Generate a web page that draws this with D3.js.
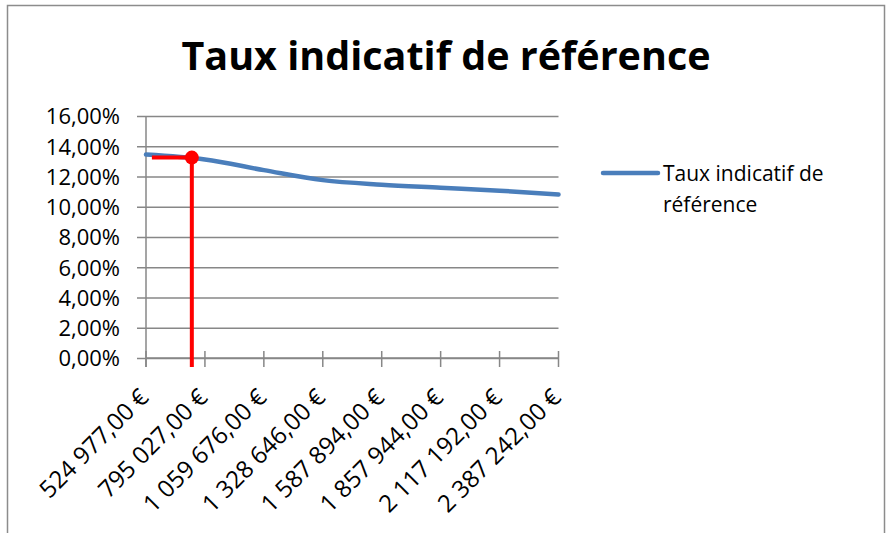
<!DOCTYPE html>
<html>
<head>
<meta charset="utf-8">
<script src="https://cdn.jsdelivr.net/npm/d3@7"></script>
<style>
  body { margin: 0; background: #fff; }
  text { font-family: "Open Sans", "Noto Sans", sans-serif; fill: #000; }
</style>
</head>
<body>
<div id="chart"></div>
<script>
// DATA
const amounts = [524977, 795027, 1059676, 1328646, 1587894, 1857944, 2117192, 2387242];
const amountLabels = ['524 977,00 €', '795 027,00 €', '1 059 676,00 €', '1 328 646,00 €',
  '1 587 894,00 €', '1 857 944,00 €', '2 117 192,00 €', '2 387 242,00 €'];
const rates = [13.45, 13.12, 12.42, 11.76, 11.46, 11.26, 11.06, 10.81];
const yTicks = [0, 2, 4, 6, 8, 10, 12, 14, 16];
const seriesName = 'Taux indicatif de référence';
// red marker : amount chosen and its rate, horizontal guide starting amount
const markerAmount = 735000;
const markerRate = 13.25;
const guideStartAmount = 552000;

const width = 891;
const height = 533;
const margin = { top: 116, right: 333, bottom: 175, left: 146 };

const svg = d3.select('#chart').append('svg')
  .attr('width', width)
  .attr('height', height);

// chart border
svg.append('rect')
  .attr('x', 7.5).attr('y', 5.5)
  .attr('width', 877).attr('height', 560)
  .attr('fill', 'none')
  .attr('stroke', '#8c8c8c')
  .attr('stroke-width', 1.5);

const x = d3.scalePoint()
  .domain(d3.range(amounts.length))
  .range([margin.left, width - margin.right + 0.5]);

const y = d3.scaleLinear()
  .domain([0, 16])
  .range([height - margin.bottom, margin.top]);

// amount -> x, interpolated between categories
function xAmount(v) {
  const i = Math.max(0, d3.bisectRight(amounts, v) - 1);
  const j = Math.min(amounts.length - 1, i + 1);
  const t = j === i ? 0 : (v - amounts[i]) / (amounts[j] - amounts[i]);
  return x(i) + t * (x(j) - x(i));
}

const gridColor = '#878787';

// GRID + Y AXIS
svg.append('g')
  .attr('class', 'grid')
  .attr('transform', `translate(${margin.left},0)`)
  .call(d3.axisLeft(y).tickValues(yTicks)
    .tickSize(-(x.range()[1] - margin.left))
    .tickFormat(''))
  .call(g => g.select('.domain').remove())
  .selectAll('line')
  .attr('stroke', gridColor)
  .attr('stroke-width', 1.5);

svg.append('g')
  .attr('transform', `translate(${margin.left},0)`)
  .call(d3.axisLeft(y).tickValues(yTicks).tickSize(9).tickPadding(17)
    .tickFormat(d => d3.format('.2f')(d).replace('.', ',') + '%'))
  .call(g => g.select('.domain').remove())
  .call(g => g.selectAll('line').attr('stroke', gridColor).attr('stroke-width', 1.5))
  .call(g => g.selectAll('text')
    .style('font-size', '22px')
    .attr('font-family', null)
    .attr('dy', '0.36em'));

svg.append('line')
  .attr('x1', margin.left).attr('x2', margin.left)
  .attr('y1', y(16)).attr('y2', y(0) + 9)
  .attr('stroke', gridColor).attr('stroke-width', 1.5);

// X AXIS
const xAxis = svg.append('g')
  .attr('transform', `translate(0,${y(0)})`);
xAxis.append('line')
  .attr('x1', x.range()[0]).attr('x2', x.range()[1])
  .attr('stroke', gridColor).attr('stroke-width', 1.5);
xAxis.selectAll('.tk')
  .data(d3.range(amounts.length))
  .join('line')
  .attr('class', 'tk')
  .attr('x1', d => x(d)).attr('x2', d => x(d))
  .attr('y1', -7).attr('y2', 9)
  .attr('stroke', gridColor).attr('stroke-width', 1.5);
xAxis.selectAll('.lbl')
  .data(d3.range(amounts.length))
  .join('text')
  .attr('class', 'lbl')
  .attr('transform', d => `translate(${x(d) + 4},${41}) rotate(-45)`)
  .attr('text-anchor', 'end')
  .style('font-size', '24px')
  .text(d => amountLabels[d]);

// SERIES LINE
const lineGen = d3.line()
  .x((d, i) => x(i))
  .y(d => y(d))
  .curve(d3.curveCatmullRom.alpha(0));

svg.append('path')
  .datum(rates)
  .attr('d', lineGen)
  .attr('fill', 'none')
  .attr('stroke', '#4a7ebb')
  .attr('stroke-width', 4.5)
  .attr('stroke-linecap', 'round');

// RED MARKER
const mx = xAmount(markerAmount);
svg.append('line')
  .attr('x1', xAmount(guideStartAmount)).attr('x2', mx)
  .attr('y1', y(markerRate)).attr('y2', y(markerRate))
  .attr('stroke', '#ff0000').attr('stroke-width', 4);
svg.append('line')
  .attr('x1', mx).attr('x2', mx)
  .attr('y1', y(markerRate)).attr('y2', y(0) + 9)
  .attr('stroke', '#ff0000').attr('stroke-width', 4);
svg.append('circle')
  .attr('cx', mx).attr('cy', y(markerRate))
  .attr('r', 7)
  .attr('fill', '#ff0000');

// TITLE
svg.append('text')
  .attr('x', 446)
  .attr('y', 70)
  .attr('text-anchor', 'middle')
  .style('font-size', '39.5px')
  .style('font-weight', 'bold')
  .text(seriesName);

// LEGEND
const legend = svg.append('g').attr('transform', 'translate(603,173)');
legend.append('line')
  .attr('x1', 0).attr('x2', 55)
  .attr('stroke', '#4a7ebb')
  .attr('stroke-width', 4.5)
  .attr('stroke-linecap', 'round');
const lt = legend.append('text')
  .attr('x', 60)
  .attr('y', 8)
  .style('font-size', '21px');
lt.append('tspan').attr('x', 60).text('Taux indicatif de');
lt.append('tspan').attr('x', 60).attr('dy', 31).text('référence');
</script>
</body>
</html>
